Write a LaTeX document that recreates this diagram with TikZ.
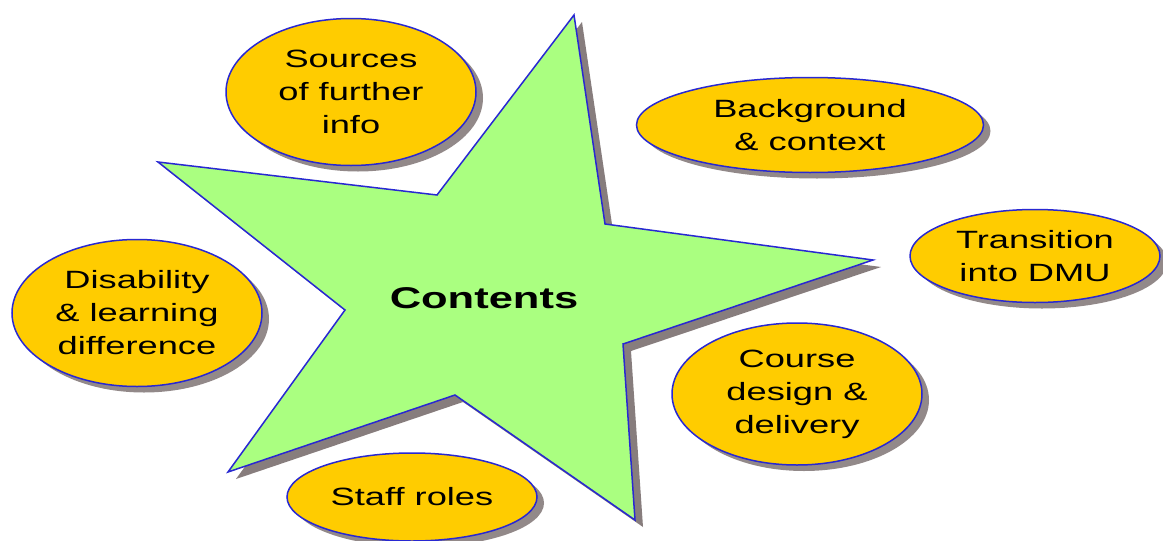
\documentclass[tikz,border=0pt]{standalone}
\usepackage{fontspec}
\setmainfont{Liberation Sans}[FakeStretch=1.45]
\usetikzlibrary{shapes.geometric,shadows}
\definecolor{starfill}{RGB}{170,255,128}
\definecolor{edgeblue}{RGB}{40,40,210}
\definecolor{ovalfill}{RGB}{255,204,0}
\definecolor{shadowgray}{RGB}{135,125,125}
\begin{document}
\begin{tikzpicture}[x=1pt,y=-1pt,
  oval/.style={ellipse, draw=edgeblue, line width=1.5pt, fill=ovalfill, inner sep=0pt,
    align=center, font=\fontsize{25}{33}\selectfont,
    drop shadow={shadow xshift=7pt, shadow yshift=-6pt, fill=shadowgray, opacity=0.9}},
  starline/.style={draw=edgeblue, line width=1.5pt, fill=starfill, line join=miter},
]
\useasboundingbox (0,0) rectangle (1163,541);
\fill[white] (0,0) rectangle (1163,541);
% star shadow
\fill[shadowgray, shift={(8,7)}] (574,15) -- (605,224) -- (873,260) -- (623,344) -- (635,520) -- (455,395) -- (228,472) -- (345,310) -- (158,162) -- (437,195) -- cycle;
% star
\path[starline] (574,15) -- (605,224) -- (873,260) -- (623,344) -- (635,520) -- (455,395) -- (228,472) -- (345,310) -- (158,162) -- (437,195) -- cycle;
\node[font=\fontsize{30}{36}\selectfont\bfseries] (contents) at (484,298) {Contents};
% ellipses
\node[oval, minimum width=250pt, minimum height=147pt] (sources) at (351,92) {Sources\\of further\\info};
\node[oval, minimum width=347pt, minimum height=95pt] (background) at (810,125) {Background\\\& context};
\node[oval, minimum width=250pt, minimum height=93pt] (transition) at (1035,256) {Transition\\into DMU};
\node[oval, minimum width=250pt, minimum height=142pt] (course) at (797,394) {Course\\design \&\\delivery};
\node[oval, minimum width=250pt, minimum height=88pt] (staff) at (412,497) {Staff roles};
\node[oval, minimum width=250pt, minimum height=147pt] (disability) at (137,313) {Disability\\\& learning\\difference};
\end{tikzpicture}
\end{document}
